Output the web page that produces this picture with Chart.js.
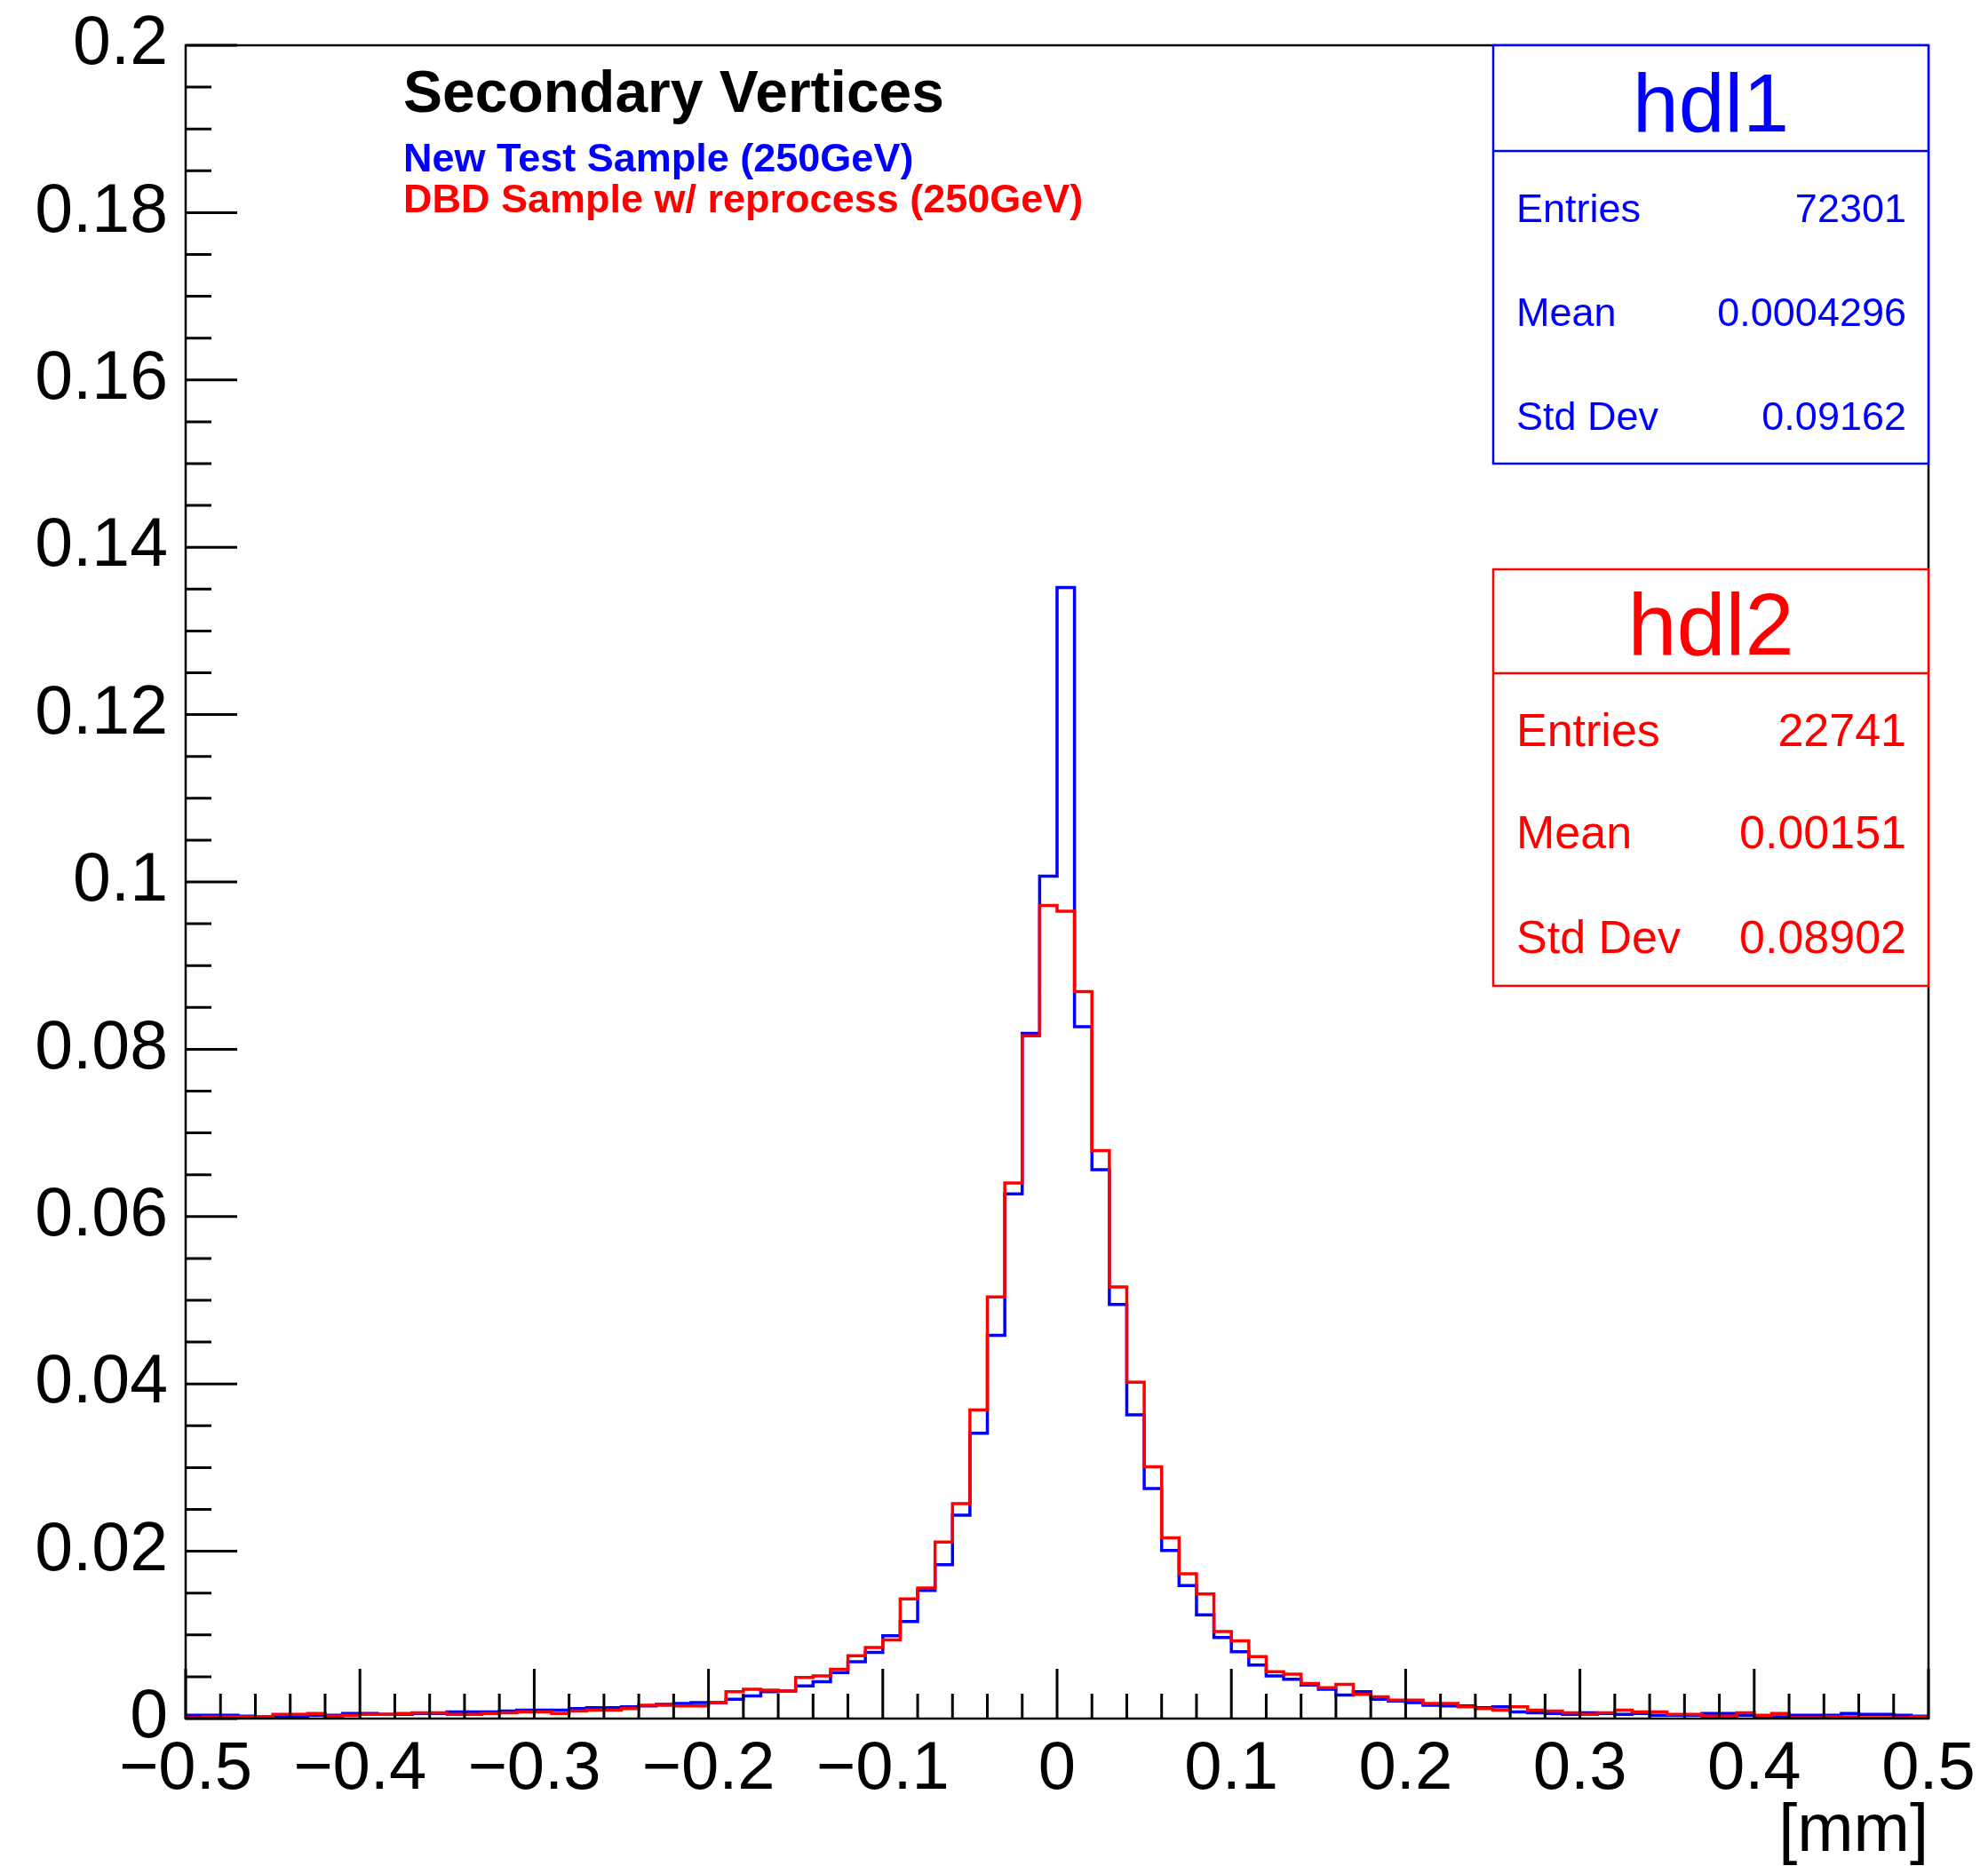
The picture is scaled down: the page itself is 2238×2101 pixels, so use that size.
<!DOCTYPE html>
<html>
<head>
<meta charset="utf-8">
<script src="https://cdn.jsdelivr.net/npm/chart.js@4.4.1/dist/chart.umd.min.js"></script>
<style>
  html, body { margin: 0; padding: 0; background: #fff; }
  canvas { display: block; }
</style>
</head>
<body>
<canvas id="hist" width="2238" height="2101"></canvas>
<script>
const FONT = '"Liberation Sans", Arial, Helvetica, sans-serif';

// binning: 100 bins from -0.5 to 0.5 mm
const xMin = -0.5, xMax = 0.5, binWidth = 0.01;

// New Test Sample (hdl1), normalised bin contents
const hdl1Values = [
  0.0004, 0.0004, 0.0004, 0.0003, 0.0002, 0.0002, 0.0003, 0.0004, 0.0004, 0.0006,
  0.0006, 0.0005, 0.0005, 0.0006, 0.0006, 0.0008, 0.0008, 0.0008, 0.0009, 0.0010,
  0.0010, 0.0010, 0.0012, 0.0013, 0.0013, 0.0014, 0.0015, 0.0017, 0.0018, 0.0019,
  0.0019, 0.0023, 0.0027, 0.0032, 0.0033, 0.0039, 0.0044, 0.0055, 0.0068, 0.0079,
  0.0099, 0.0116, 0.0153, 0.0184, 0.0243, 0.0341, 0.0458, 0.0627, 0.0819, 0.1007,
  0.1352, 0.0827, 0.0656, 0.0495, 0.0363, 0.0275, 0.0201, 0.0159, 0.0124, 0.0097,
  0.0080, 0.0064, 0.0051, 0.0047, 0.0040, 0.0035, 0.0028, 0.0032, 0.0023, 0.0021,
  0.0019, 0.0016, 0.0015, 0.0015, 0.0013, 0.0014, 0.0008, 0.0007, 0.0006, 0.0005,
  0.0007, 0.0006, 0.0005, 0.0006, 0.0004, 0.0004, 0.0004, 0.0006, 0.0006, 0.0004,
  0.0003, 0.0002, 0.0004, 0.0004, 0.0004, 0.0006, 0.0005, 0.0005, 0.0004, 0.0003
];

// DBD Sample w/ reprocess (hdl2), normalised bin contents
const hdl2Values = [
  0.0001, 0.0002, 0.0002, 0.0002, 0.0002, 0.0005, 0.0005, 0.0006, 0.0003, 0.0004,
  0.0005, 0.0005, 0.0006, 0.0007, 0.0007, 0.0005, 0.0005, 0.0006, 0.0007, 0.0008,
  0.0008, 0.0006, 0.0009, 0.0010, 0.0010, 0.0012, 0.0016, 0.0016, 0.0015, 0.0015,
  0.0019, 0.0032, 0.0035, 0.0034, 0.0033, 0.0049, 0.0051, 0.0059, 0.0075, 0.0085,
  0.0094, 0.0143, 0.0156, 0.0211, 0.0257, 0.0369, 0.0504, 0.0640, 0.0816, 0.0972,
  0.0965, 0.0869, 0.0679, 0.0516, 0.0402, 0.0301, 0.0216, 0.0173, 0.0149, 0.0104,
  0.0093, 0.0074, 0.0056, 0.0053, 0.0042, 0.0037, 0.0041, 0.0029, 0.0026, 0.0022,
  0.0022, 0.0018, 0.0018, 0.0014, 0.0012, 0.0010, 0.0014, 0.0010, 0.0009, 0.0007,
  0.0005, 0.0007, 0.0010, 0.0008, 0.0008, 0.0005, 0.0005, 0.0003, 0.0003, 0.0007,
  0.0004, 0.0006, 0.0001, 0.0001, 0.0002, 0.0002, 0.0001, 0.0001, 0.0001, 0.0002
];

const statLabels = ['Entries', 'Mean', 'Std Dev'];
const hdl1Stats = ['72301', '0.0004296', '0.09162'];
const hdl2Stats = ['22741', '0.00151', '0.08902'];

const titleText = 'Secondary Vertices';
const legendTexts = ['New Test Sample (250GeV)', 'DBD Sample w/ reprocess (250GeV)'];

// histogram outline: two points per bin (left and right edge)
function outline(values) {
  const pts = [];
  values.forEach((v, i) => {
    const lo = +(xMin + i * binWidth).toFixed(2);
    const hi = +(lo + binWidth).toFixed(2);
    pts.push({ x: lo, y: v }, { x: hi, y: v });
  });
  return pts;
}

function fmtTick(v) {
  const n = parseFloat(v.toFixed(3));
  if (n === 0) return '0';
  return n < 0 ? '\u2212' + String(Math.abs(n)) : String(n);
}

// frame plus ROOT-style inward ticks
const frameTicks = {
  id: 'frameTicks',
  afterDatasetsDraw(chart) {
    const { ctx, chartArea: a, scales: { x, y } } = chart;
    ctx.save();
    ctx.strokeStyle = '#000';
    ctx.lineWidth = 3;
    ctx.beginPath();
    for (let i = 0; i <= 50; i++) {
      const px = x.getPixelForValue(xMin + i * 0.02);
      const len = i % 5 === 0 ? 56 : 28;
      ctx.moveTo(px, a.bottom);
      ctx.lineTo(px, a.bottom - len);
    }
    for (let i = 0; i <= 40; i++) {
      const py = y.getPixelForValue(i * 0.005);
      const len = i % 4 === 0 ? 58 : 29;
      ctx.moveTo(a.left, py);
      ctx.lineTo(a.left + len, py);
    }
    ctx.stroke();
    ctx.lineWidth = 2.5;
    ctx.strokeRect(a.left, a.top, a.right - a.left, a.bottom - a.top);
    ctx.restore();
  }
};

function drawStatBox(ctx, b) {
  ctx.fillStyle = '#fff';
  ctx.fillRect(b.left, b.top, b.right - b.left, b.bottom - b.top);
  ctx.strokeStyle = b.color;
  ctx.lineWidth = 2.5;
  ctx.strokeRect(b.left, b.top, b.right - b.left, b.bottom - b.top);
  ctx.beginPath();
  ctx.moveTo(b.left, b.sep);
  ctx.lineTo(b.right, b.sep);
  ctx.stroke();

  ctx.fillStyle = b.color;
  ctx.textBaseline = 'alphabetic';
  ctx.font = b.titleSize + 'px ' + FONT;
  ctx.textAlign = 'center';
  ctx.fillText(b.name, (b.left + b.right) / 2, b.titleBase);
  ctx.font = b.rowSize + 'px ' + FONT;
  statLabels.forEach((lab, i) => {
    ctx.textAlign = 'left';
    ctx.fillText(lab, b.left + 26, b.rows[i]);
    ctx.textAlign = 'right';
    ctx.fillText(b.values[i], b.right - 25, b.rows[i]);
  });
}

const texts = {
  id: 'texts',
  afterDraw(chart) {
    const ctx = chart.ctx;
    ctx.save();
    ctx.textBaseline = 'alphabetic';
    ctx.textAlign = 'left';
    ctx.fillStyle = '#000';
    ctx.font = 'bold 66px ' + FONT;
    ctx.fillText(titleText, 454, 126);
    ctx.font = 'bold 45px ' + FONT;
    ctx.fillStyle = '#0000ff';
    ctx.fillText(legendTexts[0], 454, 193);
    ctx.fillStyle = '#ff0000';
    ctx.fillText(legendTexts[1], 454, 239);

    drawStatBox(ctx, {
      name: 'hdl1', color: '#0000ff', values: hdl1Stats,
      left: 1681, right: 2171, top: 51, bottom: 522, sep: 170,
      titleSize: 93, titleBase: 148, rowSize: 45, rows: [250, 367, 484]
    });
    drawStatBox(ctx, {
      name: 'hdl2', color: '#ff0000', values: hdl2Stats,
      left: 1681, right: 2171, top: 641, bottom: 1110, sep: 758,
      titleSize: 99, titleBase: 737, rowSize: 52, rows: [840, 955, 1073]
    });
    ctx.restore();
  }
};

const ctx = document.getElementById('hist').getContext('2d');
new Chart(ctx, {
  type: 'line',
  data: {
    datasets: [
      { label: 'hdl2', data: outline(hdl2Values), borderColor: '#ff0000', borderWidth: 3.5,
        pointRadius: 0, fill: false, order: 0 },
      { label: 'hdl1', data: outline(hdl1Values), borderColor: '#0000ff', borderWidth: 3.5,
        pointRadius: 0, fill: false, order: 1 }
    ]
  },
  options: {
    responsive: false,
    animation: false,
    devicePixelRatio: 1,
    layout: { padding: { top: 51, right: 67, left: 0, bottom: 0 } },
    plugins: {
      legend: { display: false },
      tooltip: { enabled: false }
    },
    scales: {
      x: {
        type: 'linear',
        min: xMin,
        max: xMax,
        grid: { display: false },
        border: { display: false },
        ticks: {
          stepSize: 0.1,
          autoSkip: false,
          maxRotation: 0,
          padding: 4,
          color: '#000',
          font: { family: FONT, size: 76 },
          callback: fmtTick
        },
        title: {
          display: true,
          text: '[mm]',
          align: 'end',
          color: '#000',
          padding: 0,
          font: { family: FONT, size: 76, lineHeight: 1 }
        },
        afterFit: s => {
          s.height = 166;
          s.paddingLeft = 0;
          s.paddingRight = 0;
        }
      },
      y: {
        min: 0,
        max: 0.2,
        grid: { display: false },
        border: { display: false },
        ticks: {
          stepSize: 0.02,
          padding: 12,
          color: '#000',
          font: { family: FONT, size: 77 },
          callback: fmtTick
        },
        afterFit: s => {
          s.width = 209;
          s.paddingTop = 0;
          s.paddingBottom = 0;
        }
      }
    }
  },
  plugins: [frameTicks, texts]
});
</script>
</body>
</html>
